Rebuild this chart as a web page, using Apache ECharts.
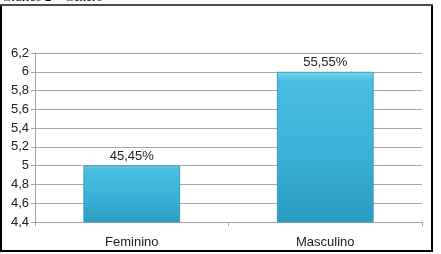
<!DOCTYPE html>
<html><head><meta charset="utf-8">
<script src="https://cdn.jsdelivr.net/npm/echarts@6/dist/echarts.min.js"></script>
<style>html,body{margin:0;padding:0;background:#fff}#c{width:441px;height:254px}</style>
</head><body><div id="c"></div>
<script>
const categories = ['Feminino', 'Masculino'];
const values = [5, 6];
const valueLabels = ['45,45%', '55,55%'];
const yMin = 4.4, yMax = 6.2, yStep = 0.2;

const chart = echarts.init(document.getElementById('c'), null, {renderer: 'canvas'});
const fmt = v => String(Number(v.toFixed(1))).replace('.', ',');
const barColor = {
  type: 'linear', x: 0, y: 0, x2: 0, y2: 1,
  colorStops: [
    {offset: 0, color: '#7fd6ee'},
    {offset: 0.06, color: '#49bde0'},
    {offset: 0.5, color: '#3cb3d8'},
    {offset: 1, color: '#2b9cc0'}
  ]
};
chart.setOption({
  animation: false,
  graphic: [
    {type: 'text', left: 2, top: -9, style: {text: 'Gráfico 2 – Gênero', font: '13px "Liberation Serif"', fill: '#000'}},
    {type: 'rect', shape: {x: 1, y: 5, width: 431, height: 246}, style: {fill: 'none', stroke: '#000', lineWidth: 2}, z: 10},
    {type: 'line', shape: {x1: 0, y1: 5, x2: 433, y2: 5}, style: {stroke: '#999', lineWidth: 1}, z: 11}
  ],
  grid: {left: 35, right: 19, top: 53, bottom: 32},
  xAxis: {
    type: 'category', data: categories,
    axisLine: {lineStyle: {color: '#a6a6a6'}},
    axisTick: {show: true, length: 4, lineStyle: {color: '#a6a6a6'}},
    axisLabel: {color: '#222', fontFamily: 'Liberation Sans', fontSize: 13, margin: 14}
  },
  yAxis: {
    type: 'value', min: yMin, max: yMax, interval: yStep,
    axisLine: {show: true, lineStyle: {color: '#a6a6a6'}},
    axisTick: {show: true, length: 4, lineStyle: {color: '#a6a6a6'}},
    splitLine: {lineStyle: {color: '#a6a6a6'}},
    axisLabel: {color: '#222', fontFamily: 'Liberation Sans', fontSize: 13, margin: 6, formatter: fmt}
  },
  series: [{
    type: 'bar', data: values, barWidth: '50%',
    itemStyle: {color: barColor, borderColor: '#2f9fc2', borderWidth: 1},
    label: {show: true, position: 'top', distance: 3, color: '#222', fontFamily: 'Liberation Sans', fontSize: 13,
      formatter: p => valueLabels[p.dataIndex]}
  }]
});
</script></body></html>
